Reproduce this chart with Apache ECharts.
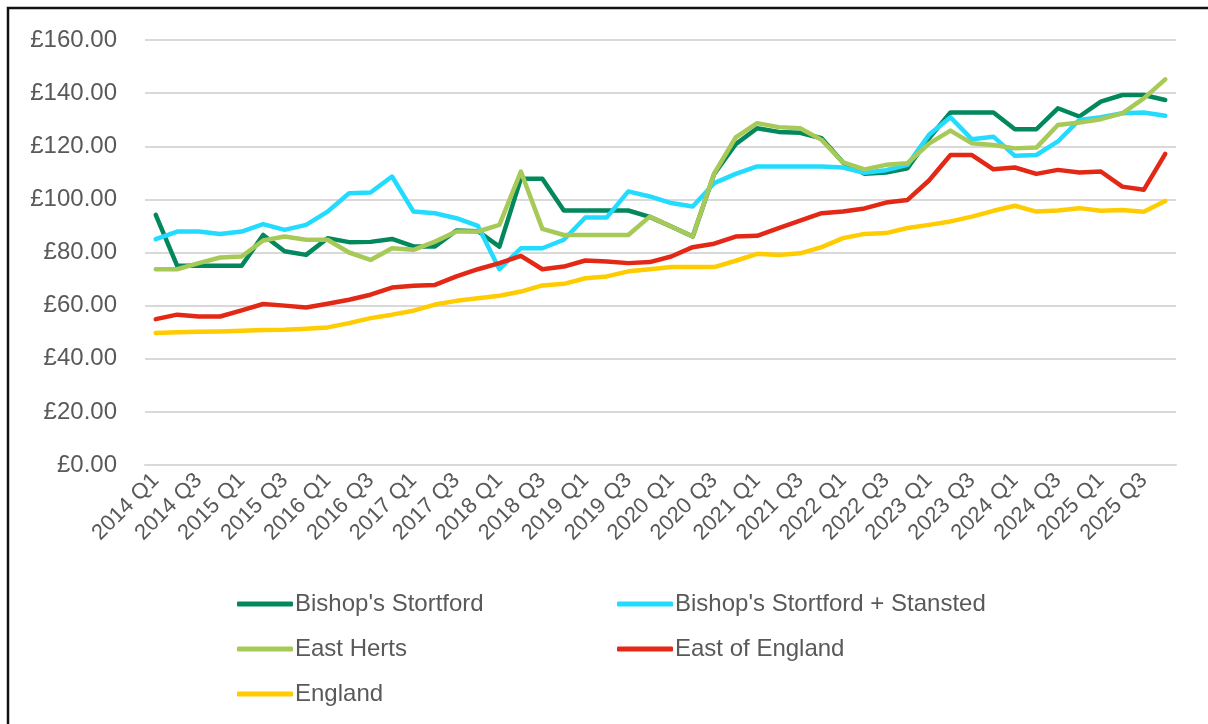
<!DOCTYPE html>
<html>
<head>
<meta charset="utf-8">
<script src="https://cdn.jsdelivr.net/npm/echarts@6/dist/echarts.min.js"></script>
<style>
  html, body { margin: 0; padding: 0; background: #fff; }
  #chart { width: 1208px; height: 724px; }
</style>
</head>
<body>
<div id="chart"></div>
<script>
// quarters shown on the x axis
const quarters = [
  '2014 Q1','2014 Q2','2014 Q3','2014 Q4','2015 Q1','2015 Q2','2015 Q3','2015 Q4',
  '2016 Q1','2016 Q2','2016 Q3','2016 Q4','2017 Q1','2017 Q2','2017 Q3','2017 Q4',
  '2018 Q1','2018 Q2','2018 Q3','2018 Q4','2019 Q1','2019 Q2','2019 Q3','2019 Q4',
  '2020 Q1','2020 Q2','2020 Q3','2020 Q4','2021 Q1','2021 Q2','2021 Q3','2021 Q4',
  '2022 Q1','2022 Q2','2022 Q3','2022 Q4','2023 Q1','2023 Q2','2023 Q3','2023 Q4',
  '2024 Q1','2024 Q2','2024 Q3','2024 Q4','2025 Q1','2025 Q2','2025 Q3','2025 Q4'
];

const bishopsStortford = [
  94.2, 75, 75, 75, 75, 86.6, 80.5, 79.1, 85.4, 83.9, 84, 85.1,
  82.3, 82.3, 88.3, 88, 82.2, 107.8, 107.8, 95.8, 95.8, 95.8, 95.8, 93.4,
  89.8, 86, 109.6, 120.8, 126.8, 125.4, 125.1, 123, 113.9, 109.6, 110.1, 111.7,
  123, 132.7, 132.7, 132.7, 126.4, 126.4, 134.3, 131.2, 136.8, 139.3, 139.3, 137.4
];
const bishopsStansted = [
  85, 87.9, 87.9, 87, 87.9, 90.7, 88.5, 90.4, 95.4, 102.3, 102.6, 108.6,
  95.4, 94.8, 92.9, 90, 73.7, 81.6, 81.6, 84.8, 93.2, 93.2, 103, 101.1,
  98.6, 97.3, 106.1, 109.6, 112.4, 112.4, 112.4, 112.4, 112, 110, 111, 113,
  124.3, 130.9, 122.6, 123.6, 116.4, 116.7, 121.8, 129.9, 130.9, 132.4, 132.7, 131.5
];
const eastHerts = [
  73.7, 73.7, 76, 78.1, 78.5, 84.5, 86, 84.8, 84.8, 80, 77.2, 81.6,
  81, 84.1, 87.9, 87.9, 90.4, 110.5, 88.9, 86.6, 86.6, 86.6, 86.6, 93.5,
  89.8, 86, 109.8, 123.3, 128.7, 127.2, 126.8, 122.4, 113.9, 111.3, 113, 113.6,
  121, 125.9, 121.1, 120.5, 119.2, 119.5, 128, 128.9, 130.2, 132.4, 138, 145.2
];
const eastOfEngland = [
  54.9, 56.6, 55.9, 55.9, 58.2, 60.6, 60, 59.3, 60.7, 62.2, 64.1, 66.8,
  67.5, 67.8, 71, 73.7, 76, 78.7, 73.7, 74.7, 77, 76.6, 76, 76.4,
  78.5, 82, 83.3, 86, 86.3, 89.2, 92, 94.8, 95.4, 96.6, 98.8, 99.8,
  107.1, 116.7, 116.7, 111.3, 112, 109.6, 111.1, 110.1, 110.5, 104.8, 103.6, 117.1
];
const england = [
  49.7, 50, 50.2, 50.3, 50.5, 50.8, 50.9, 51.3, 51.8, 53.4, 55.3, 56.6,
  58.1, 60.4, 61.8, 62.8, 63.7, 65.3, 67.6, 68.2, 70.3, 71, 72.9, 73.7,
  74.5, 74.5, 74.5, 76.9, 79.5, 79.1, 79.7, 82, 85.4, 87, 87.3, 89.2,
  90.4, 91.7, 93.5, 95.7, 97.6, 95.4, 95.8, 96.7, 95.7, 96, 95.3, 99.4
];

const seriesNames = ["Bishop's Stortford", "Bishop's Stortford + Stansted", 'East Herts', 'East of England', 'England'];
const seriesColors = ['#03875c', '#22dbff', '#a6c957', '#e42816', '#ffcc00'];
const seriesData = [bishopsStortford, bishopsStansted, eastHerts, eastOfEngland, england];

const chart = echarts.init(document.getElementById('chart'));

// two legend columns, like the original
const legendBase = {
  orient: 'vertical',
  top: 592,
  padding: 0,
  itemWidth: 56,
  itemHeight: 5,
  itemGap: 21,
  icon: 'roundRect',
  textStyle: { fontFamily: 'Liberation Sans', fontSize: 24, color: '#595959', padding: [0, 0, 0, -3] }
};

const option = {
  backgroundColor: '#fff',
  animation: false,
  grid: { left: 145, right: 32, top: 40, bottom: 259, containLabel: false },
  xAxis: {
    type: 'category',
    data: quarters,
    boundaryGap: true,
    axisLine: { lineStyle: { color: '#d9d9d9', width: 2 } },
    axisTick: { show: false },
    axisLabel: {
      interval: 1,
      rotate: 45,
      margin: 12,
      fontFamily: 'Liberation Sans',
      fontSize: 22,
      color: '#595959'
    }
  },
  yAxis: {
    type: 'value',
    min: 0,
    max: 160,
    interval: 20,
    axisLine: { show: false },
    axisTick: { show: false },
    splitLine: { lineStyle: { color: '#d9d9d9', width: 2 } },
    axisLabel: {
      margin: 28,
      fontFamily: 'Liberation Sans',
      fontSize: 24,
      color: '#595959',
      formatter: (v) => '£' + v.toFixed(2)
    }
  },
  legend: [
    Object.assign({}, legendBase, { left: 237, data: [seriesNames[0], seriesNames[2], seriesNames[4]] }),
    Object.assign({}, legendBase, { left: 617, data: [seriesNames[1], seriesNames[3]] })
  ],
  graphic: [
    {
      type: 'rect',
      shape: { x: 8, y: 8, width: 1220, height: 740 },
      style: { fill: 'none', stroke: '#111', lineWidth: 2.5 },
      silent: true
    }
  ],
  series: seriesData.map((d, i) => ({
    name: seriesNames[i],
    type: 'line',
    data: d,
    symbol: 'none',
    color: seriesColors[i],
    lineStyle: { width: 4.5, color: seriesColors[i], cap: 'round', join: 'round' }
  }))
};

chart.setOption(option);
</script>
</body>
</html>
